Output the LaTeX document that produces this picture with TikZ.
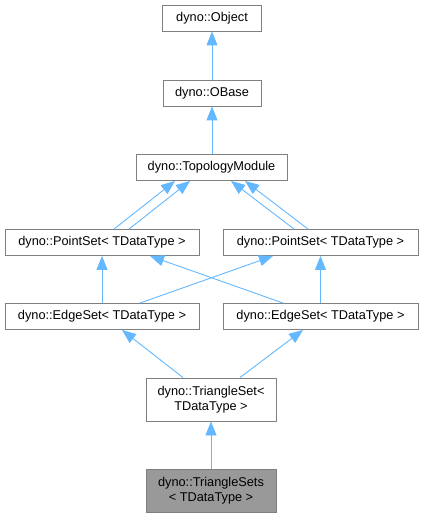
\documentclass[tikz,border=0pt]{standalone}
\usepackage{fontspec}
\setmainfont{Liberation Sans}
\usetikzlibrary{arrows.meta}
\definecolor{edgeblue}{HTML}{63B8FF}
\definecolor{boxgray}{HTML}{808080}
\definecolor{fillgray}{HTML}{999999}
\begin{document}
\begin{tikzpicture}[x=1bp,y=-1bp,
  cls/.style={draw=boxgray,line width=0.9bp,fill=white,inner sep=0pt,
    font=\fontsize{12.8}{15}\selectfont,align=center},
  one/.style={cls,minimum height=26bp},
  two/.style={cls,minimum height=43bp,minimum width=130bp},
  inh/.style={draw=edgeblue,line width=0.9bp,
    -{Triangle[width=11bp,length=14bp,fill=edgeblue]}}]
\useasboundingbox (0,0) rectangle (424,517);
\node[one,minimum width=99bp] (obj) at (212,18) {dyno::Object};
\node[one,minimum width=98bp] (ob) at (212,93) {dyno::OBase};
\node[one,minimum width=151bp] (tm) at (211.5,167.5) {dyno::TopologyModule};
\node[one,minimum width=194bp] (psl) at (102,242.5) {dyno::PointSet< TDataType >};
\node[one,minimum width=195bp] (psr) at (320.5,242.5) {dyno::PointSet< TDataType >};
\node[one,minimum width=194bp] (esl) at (102,316.5) {dyno::EdgeSet< TDataType >};
\node[one,minimum width=195bp] (esr) at (320.5,316.5) {dyno::EdgeSet< TDataType >};
\node[two] (ts) at (211,399.5) {dyno::TriangleSet<\\TDataType >};
\node[two,fill=fillgray] (tss) at (211,490.5) {dyno::TriangleSets\\< TDataType >};
\draw[inh] (ob) -- (obj);
\draw[inh] (tm.north -| ob) -- (ob);
\draw[inh] ([xshift=12bp]psl.north) -- ([xshift=-36.5bp]tm.south);
\draw[inh] ([xshift=27bp]psl.north) -- ([xshift=-21.5bp]tm.south);
\draw[inh] ([xshift=-26.5bp]psr.north) -- ([xshift=19.5bp]tm.south);
\draw[inh] ([xshift=-12.5bp]psr.north) -- ([xshift=33.5bp]tm.south);
\draw[inh] (esl) -- (psl);
\draw[inh] (esr) -- (psr);
\draw[inh] ([xshift=-37.5bp]esr.north) -- ([xshift=48bp]psl.south);
\draw[inh] ([xshift=38bp]esl.north) -- ([xshift=-47.5bp]psr.south);
\draw[inh] ([xshift=-28bp]ts.north) -- ([xshift=20bp]esl.south);
\draw[inh] ([xshift=29bp]ts.north) -- ([xshift=-17.5bp]esr.south);
\draw[inh] (tss) -- (ts);
\end{tikzpicture}
\end{document}
